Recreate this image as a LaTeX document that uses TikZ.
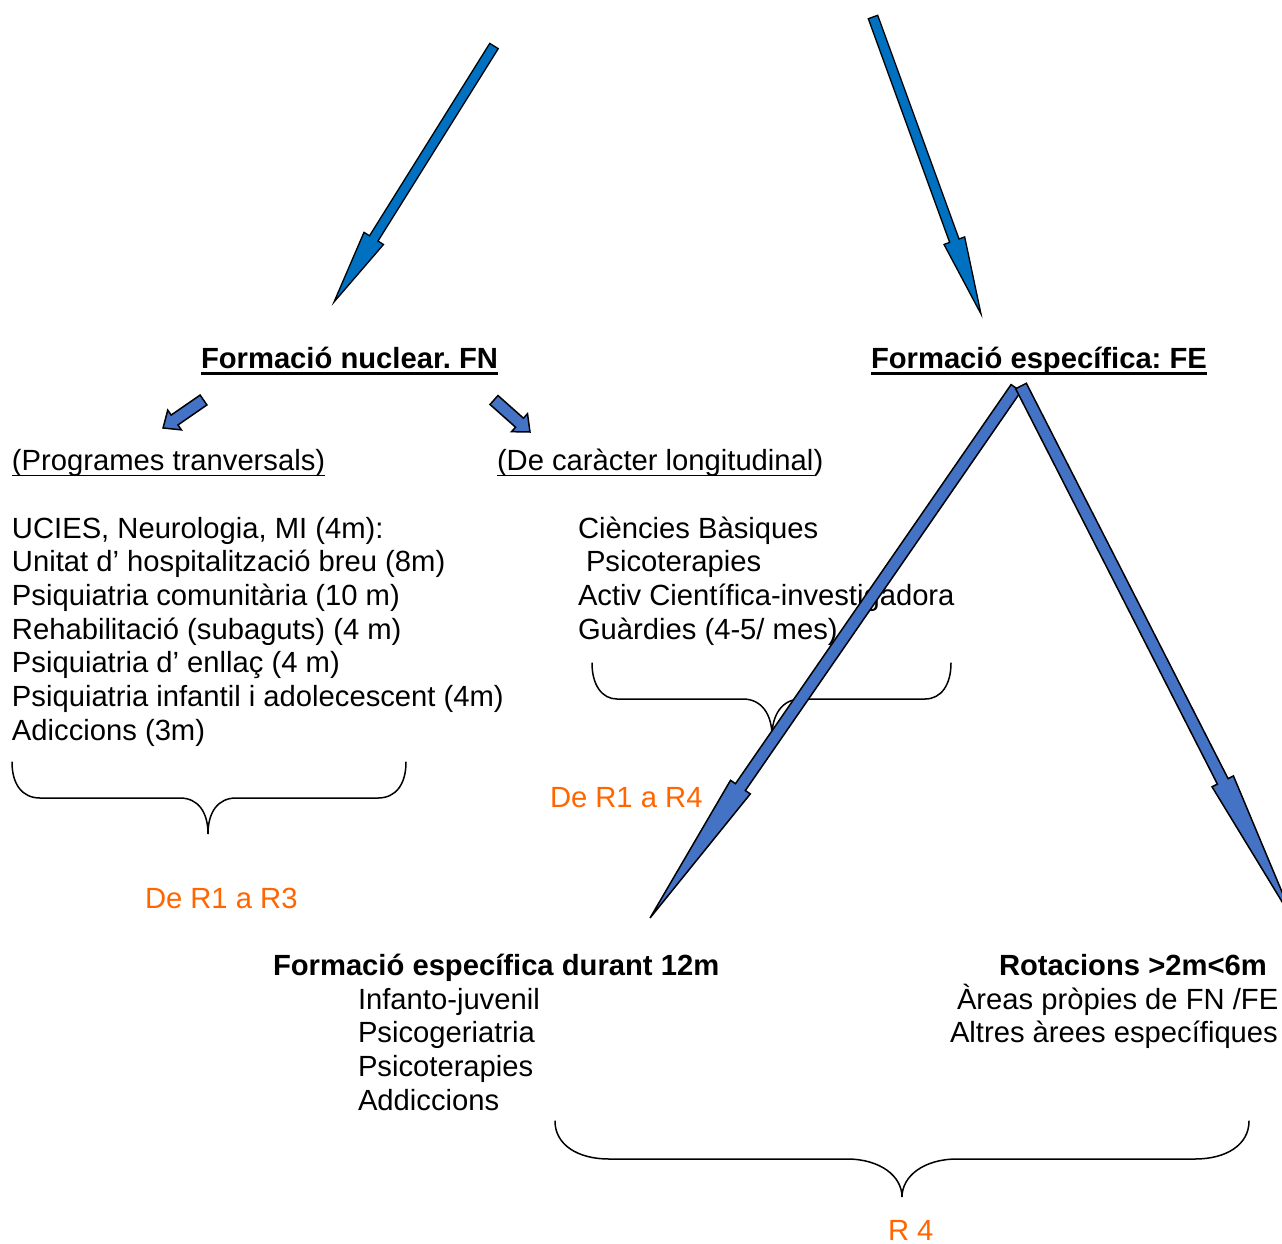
\documentclass[tikz,border=0pt]{standalone}
\usepackage{fontspec}
\setmainfont{Liberation Sans}
\frenchspacing
\definecolor{topblue}{HTML}{0070C0}
\definecolor{midblue}{HTML}{4472C4}
\definecolor{orangetxt}{HTML}{FF6600}
% block arrow: #1 style, #2 tail coord, #3 tip coord, #4 shaft half width, #5 head half width, #6 head length
\newcommand\blockarrow[6]{%
  \path (#2); \pgfgetlastxy{\baxa}{\baya}%
  \path (#3); \pgfgetlastxy{\baxb}{\bayb}%
  \pgfmathsetmacro\badx{\baxb-\baxa}%
  \pgfmathsetmacro\bady{\bayb-\baya}%
  \pgfmathsetmacro\balen{veclen(\badx,\bady)}%
  \pgfmathsetmacro\baang{atan2(\bady,\badx)}%
  \pgfmathsetmacro\baneck{\balen-#6}%
  \draw[#1,shift={(#2)},rotate=\baang] (0,#4) -- (\baneck,#4) -- (\baneck,#5) -- (\balen,0)
     -- (\baneck,-#5) -- (\baneck,-#4) -- (0,-#4) -- cycle;
}
\tikzset{
  txt/.style={font=\fontsize{29.2}{34}\selectfont, inner sep=0pt, outer sep=0pt, anchor=base west},
  btxt/.style={txt, font=\fontsize{29.2}{34}\selectfont\bfseries},
  otxt/.style={txt, text=orangetxt},
  ul/.style={line width=2.2pt},
  brace/.style={line width=1.5pt, line cap=round},
  toparrow/.style={fill=topblue, draw=black, line width=1.3pt, line join=miter},
  midarrow/.style={fill=midblue, draw=black, line width=1.5pt, line join=miter},
}
\begin{document}
\begin{tikzpicture}[x=1pt, y=-1pt]
\fill[white] (0,0) rectangle (1282,1243);
\useasboundingbox (0,0) rectangle (1282,1243);

% titles
\node[btxt] (fn) at (201,368.5) {Formació nuclear. FN};
\node[btxt] (fe) at (871,368.5) {Formació específica: FE};
\draw[ul] ([yshift=-5pt]fn.base west) -- ([yshift=-5pt]fn.base east);
\draw[ul] ([yshift=-5pt]fe.base west) -- ([yshift=-5pt]fe.base east);

\node[txt] (pt) at (12,470.5) {(Programes tranversals)};
\draw[ul,line width=1.8pt] ([yshift=-5pt]pt.base west) -- ([yshift=-5pt]pt.base east);
\node[txt] (lg) at (497,470.5) {(De caràcter longitudinal};
\node[txt] (lgp) at (lg.base east) {)};
\draw[ul,line width=1.8pt] ([yshift=-5pt]lg.base west) -- ([yshift=-5pt]lg.base east);

% left list
\node[txt] (l1) at (12,538) {UCIES, Neurologia, MI (4m):};
\node[txt] (l2) at (12,571.7) {Unitat d’ hospitalització breu (8m)};
\node[txt] (l3) at (12,605.4) {Psiquiatria comunitària (10 m)};
\node[txt] (l4) at (12,639.1) {Rehabilitació (subaguts) (4 m)};
\node[txt] (l5) at (12,672.8) {Psiquiatria d’ enllaç (4 m)};
\node[txt] (l6) at (12,706.5) {Psiquiatria infantil i adolecescent (4m)};
\node[txt] (l7) at (12,740.2) {Adiccions (3m)};

% middle list
\node[txt] (m1) at (578,538) {Ciències Bàsiques};
\node[txt] (m2) at (586,571.7) {Psicoterapies};
\node[txt] (m3) at (578,605.4) {Activ Científica-investigadora};
\node[txt] (m4) at (578,639.1) {Guàrdies (4-5/ mes)};

% bottom lists
\node[btxt] (b0) at (273,975.5) {Formació específica durant 12m};
\node[txt] (b1) at (358,1009.2) {Infanto-juvenil};
\node[txt] (b2) at (358,1042.9) {Psicogeriatria};
\node[txt] (b3) at (358,1076.6) {Psicoterapies};
\node[txt] (b4) at (358,1110.3) {Addiccions};

\node[btxt] (r0) at (999,975.5) {Rotacions >2m<6m};
\node[txt] (r1) at (957,1009.2) {Àreas pròpies de FN /FE};
\node[txt] (r2) at (950,1042.9) {Altres àrees específiques};

% orange labels
\node[otxt] (o3) at (145,908.5) {De R1 a R3};
\node[otxt] (o4) at (550,807.5) {De R1 a R4};
\node[otxt, text depth=0pt] (o5) at (888,1240.5) {R 4};

% braces
\draw[brace] (12,762) .. controls (12,784) and (22,798) .. (40,798) -- (180,798)
  .. controls (198,798) and (208,812) .. (208,834)
  .. controls (208,812) and (218,798) .. (236,798) -- (378,798)
  .. controls (396,798) and (406,784) .. (406,762);
\draw[brace] (592,663) .. controls (592,685) and (602,699) .. (617,699) -- (743,699)
  .. controls (762,699) and (772,715) .. (772,736)
  .. controls (772,715) and (782,699) .. (801,699) -- (925,699)
  .. controls (941,699) and (951,685) .. (951,663);
\draw[brace] (555,1121) .. controls (555,1145) and (578,1159) .. (609,1159) -- (847,1159)
  .. controls (880,1159) and (902,1176) .. (902,1197)
  .. controls (902,1176) and (924,1159) .. (957,1159) -- (1195,1159)
  .. controls (1226,1159) and (1249,1145) .. (1249,1121);

% arrow end points
\coordinate (a1s) at (494,46);   \coordinate (a1e) at (334,302);
\coordinate (a2s) at (873,17);   \coordinate (a2e) at (981,314);
\coordinate (a3s) at (203.5,400); \coordinate (a3e) at (163,428);
\coordinate (a4s) at (494,400);  \coordinate (a4e) at (530,432);
\coordinate (a5s) at (1016,388); \coordinate (a5e) at (650,918);
\coordinate (a6s) at (1021,386); \coordinate (a6e) at (1295,923);

\blockarrow{toparrow}{a1s}{a1e}{5}{11.5}{75}
\blockarrow{toparrow}{a2s}{a2e}{5}{11}{78}
\blockarrow{midarrow}{a3s}{a3e}{6}{12}{14}
\blockarrow{midarrow}{a4s}{a4e}{6}{12}{14}
\blockarrow{midarrow}{a5s}{a5e}{6}{12}{159}
\blockarrow{midarrow}{a6s}{a6e}{6}{12}{159}
\end{tikzpicture}
\end{document}
